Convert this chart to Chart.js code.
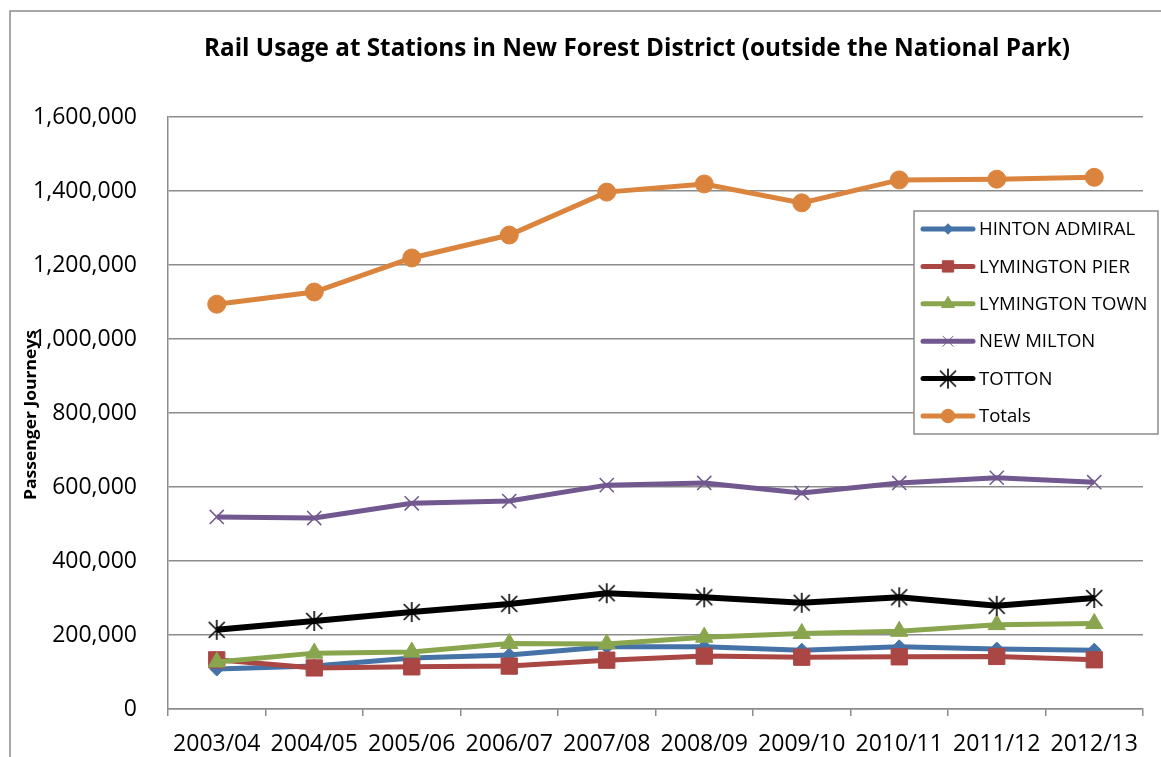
<!DOCTYPE html>
<html>
<head>
<meta charset="utf-8">
<title>Rail Usage at Stations in New Forest District</title>
<script src="https://cdn.jsdelivr.net/npm/chart.js@4.4.1/dist/chart.umd.min.js"></script>
<style>
  html, body { margin: 0; padding: 0; background: #fff; }
  #wrap { width: 1161px; height: 757px; position: relative; }
</style>
</head>
<body>
<div id="wrap"><canvas id="railChart" width="1161" height="757"></canvas></div>
<script>
const years = ["2003/04", "2004/05", "2005/06", "2006/07", "2007/08", "2008/09", "2009/10", "2010/11", "2011/12", "2012/13"];

const hintonAdmiral = [108000, 116000, 138000, 146000, 168000, 168000, 159000, 168000, 162000, 159000];
const lymingtonPier = [133000, 111000, 114000, 116000, 132000, 143000, 140000, 141000, 142000, 133000];
const lymingtonTown = [127000, 151000, 154000, 177000, 176000, 194000, 204000, 210000, 228000, 231000];
const newMilton = [519000, 516000, 556000, 562000, 605000, 611000, 584000, 611000, 625000, 613000];
const totton = [214000, 238000, 262000, 284000, 313000, 302000, 287000, 302000, 279000, 300000];
const totals = [1094000, 1127000, 1219000, 1281000, 1397000, 1419000, 1368000, 1430000, 1432000, 1437000];

const yTicks = [0, 200000, 400000, 600000, 800000, 1000000, 1200000, 1400000, 1600000];

const FONT = "'Open Sans', 'Noto Sans', sans-serif";
const GRID = '#8c8c8c';

// six-armed asterisk marker used for TOTTON
function asteriskMarker(size, color) {
  const c = document.createElement('canvas');
  c.width = size; c.height = size;
  const g = c.getContext('2d');
  const m = size / 2, r = size / 2 - 1;
  g.strokeStyle = color;
  g.lineWidth = 1.6;
  g.beginPath();
  g.moveTo(m - r * 0.8, m - r * 0.8); g.lineTo(m + r * 0.8, m + r * 0.8);
  g.moveTo(m + r * 0.8, m - r * 0.8); g.lineTo(m - r * 0.8, m + r * 0.8);
  g.moveTo(m, m - r); g.lineTo(m, m + r);
  g.stroke();
  return c;
}

const series = [
  { label: 'HINTON ADMIRAL', data: hintonAdmiral, color: '#4572A7', style: 'rectRot', radius: 7, width: 5 },
  { label: 'LYMINGTON PIER', data: lymingtonPier, color: '#AA4643', style: 'rect', radius: 11.5, width: 5 },
  { label: 'LYMINGTON TOWN', data: lymingtonTown, color: '#89A54E', style: 'triangle', radius: 10, width: 5 },
  { label: 'NEW MILTON', data: newMilton, color: '#71588F', style: 'crossRot', radius: 10, width: 5 },
  { label: 'TOTTON', data: totton, color: '#000000', style: asteriskMarker(22, '#000'), radius: 11, width: 6 },
  { label: 'Totals', data: totals, color: '#DB843D', style: 'circle', radius: 9, width: 5 }
];

const datasets = series.map((s, i) => ({
  label: s.label,
  data: s.data,
  borderColor: s.color,
  backgroundColor: s.color,
  borderWidth: s.width,
  pointStyle: s.style,
  pointRadius: s.radius,
  pointBorderWidth: s.style === 'crossRot' ? 1.5 : 1,
  pointBorderColor: s.color,
  pointBackgroundColor: s.color,
  tension: 0,
  order: series.length - i
}));

// stretch a string horizontally so it spans the given width
function fitText(ctx, text, x, y, width, sy) {
  const tw = ctx.measureText(text).width;
  ctx.save();
  ctx.translate(x, y);
  ctx.scale(width / tw, sy);
  ctx.fillText(text, 0, 0);
  ctx.restore();
}

// title, outer frame, rotated axis title and the boxed legend inside the plot
const decorations = {
  id: 'decorations',
  afterDraw(chart) {
    const ctx = chart.ctx;
    ctx.save();

    ctx.strokeStyle = GRID;
    ctx.lineWidth = 1.5;
    ctx.beginPath();
    ctx.moveTo(10, 757);
    ctx.lineTo(10, 11);
    ctx.lineTo(1161, 11);
    ctx.stroke();

    ctx.fillStyle = '#000';
    ctx.font = 'bold 23px ' + FONT;
    ctx.textAlign = 'center';
    ctx.textBaseline = 'middle';
    fitText(ctx, 'Rail Usage at Stations in New Forest District (outside the National Park)', 637, 49, 866, 1.05);

    ctx.save();
    ctx.translate(31, 415);
    ctx.rotate(-Math.PI / 2);
    ctx.font = 'bold 16px ' + FONT;
    fitText(ctx, 'Passenger Journeys', 0, 0, 170, 1.05);
    ctx.restore();

    const lx = 914, ly = 211, lw = 244, lh = 223;
    ctx.fillStyle = '#fff';
    ctx.fillRect(lx, ly, lw, lh);
    ctx.strokeStyle = GRID;
    ctx.lineWidth = 1.5;
    ctx.strokeRect(lx, ly, lw, lh);

    ctx.font = '18px ' + FONT;
    ctx.textAlign = 'left';
    chart.data.datasets.forEach((ds, i) => {
      const y = 229 + i * 37.4;
      ctx.strokeStyle = ds.borderColor;
      ctx.lineWidth = 5;
      ctx.lineCap = 'round';
      ctx.beginPath();
      ctx.moveTo(923, y);
      ctx.lineTo(973, y);
      ctx.stroke();
      ctx.lineCap = 'butt';
      ctx.fillStyle = ds.backgroundColor;
      ctx.strokeStyle = ds.borderColor;
      ctx.lineWidth = 1;
      Chart.helpers.drawPoint(ctx, {
        pointStyle: ds.pointStyle,
        radius: Math.min(ds.pointRadius * 0.75, 8),
        borderWidth: 1
      }, 948, y);
      ctx.fillStyle = '#000';
      ctx.save();
      ctx.translate(979, y + 1);
      ctx.scale(1.03, 1);
      ctx.fillText(ds.label, 0, 0);
      ctx.restore();
    });

    ctx.restore();
  }
};

new Chart(document.getElementById('railChart'), {
  type: 'line',
  data: { labels: years, datasets },
  options: {
    responsive: false,
    animation: false,
    layout: { padding: { top: 117, right: 18, left: 0, bottom: 0 } },
    plugins: {
      legend: { display: false },
      title: { display: false },
      tooltip: { enabled: false }
    },
    scales: {
      x: {
        offset: true,
        grid: {
          offset: true,
          drawOnChartArea: false,
          drawTicks: true,
          tickLength: 7,
          color: GRID,
          lineWidth: 1.5
        },
        border: { color: GRID, width: 1.5 },
        ticks: {
          autoSkip: false,
          maxRotation: 0,
          minRotation: 0,
          padding: 15,
          color: '#000',
          font: { family: FONT, size: 23 }
        },
        afterFit(scale) { scale.height = 48; }
      },
      y: {
        min: 0,
        max: 1600000,
        afterBuildTicks(scale) { scale.ticks = yTicks.map(v => ({ value: v })); },
        grid: { color: GRID, lineWidth: 1.5, drawTicks: false },
        border: { color: GRID, width: 1.5 },
        ticks: {
          padding: 31,
          color: '#000',
          font: { family: FONT, size: 23 },
          callback: v => v.toLocaleString('en-GB')
        },
        afterFit(scale) { scale.width = 168; }
      }
    }
  },
  plugins: [decorations]
});
</script>
</body>
</html>
